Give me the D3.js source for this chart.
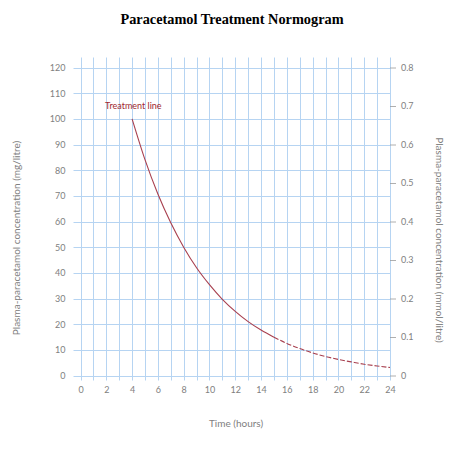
<!DOCTYPE html>
<html>
<head>
<meta charset="utf-8">
<script src="https://cdn.jsdelivr.net/npm/d3@7"></script>
<style>
  html, body { margin: 0; padding: 0; background: #fff; }
  svg { display: block; }
</style>
</head>
<body>
<svg id="chart" width="474" height="451"></svg>
<script>
// ---- data ----
const hours = [4, 5, 6, 7, 8, 9, 10, 11, 12, 13, 14, 15, 16, 17, 18, 19, 20, 21, 22, 23, 24];
const concentration = [100, 84.1, 70.7, 59.5, 50, 42, 35.4, 29.7, 25, 21, 17.7, 14.9, 12.5, 10.5, 8.8, 7.4, 6.25, 5.3, 4.4, 3.7, 3.1];
const solidUntilHour = 15;
const xTicks = [0, 2, 4, 6, 8, 10, 12, 14, 16, 18, 20, 22, 24];
const yTicksLeft = [0, 10, 20, 30, 40, 50, 60, 70, 80, 90, 100, 110, 120];
const yTicksRight = [0, 0.1, 0.2, 0.3, 0.4, 0.5, 0.6, 0.7, 0.8];
const titleText = "Paracetamol Treatment Normogram";
const xTitle = "Time (hours)";
const yTitleLeft = "Plasma-paracetamol concentration (mg/litre)";
const yTitleRight = "Plasma-paracetamol concentration (mmol/litre)";
const lineLabel = "Treatment line";

// ---- layout ----
const svg = d3.select("#chart");
const plotLeft = 80.5, plotRight = 390, plotTop = 67.5, plotBottom = 375.5;
const x = d3.scaleLinear().domain([0, 24]).range([plotLeft, plotRight]);
const y = d3.scaleLinear().domain([0, 120]).range([plotBottom, plotTop]);
const yR = d3.scaleLinear().domain([0, 0.8]).range([plotBottom, plotTop]);

const gridColor = "#b6d4f2";
const tickColor = "#808080";
const font = "Lato, 'Open Sans', sans-serif";

// title
svg.append("text")
  .attr("x", 232).attr("y", 24)
  .attr("text-anchor", "middle")
  .attr("font-family", "'Liberation Serif', 'Times New Roman', serif")
  .attr("font-weight", "bold")
  .attr("font-size", 14.3)
  .attr("fill", "#000")
  .text(titleText);

// vertical grid (every hour)
const hourGrid = d3.range(0, 25);
svg.append("g").selectAll("line").data(hourGrid).join("line")
  .attr("x1", d => Math.round(x(d)) + 0.5).attr("x2", d => Math.round(x(d)) + 0.5)
  .attr("y1", plotTop - 10).attr("y2", plotBottom + 5)
  .attr("stroke", gridColor).attr("stroke-width", 1);

// horizontal grid
svg.append("g").selectAll("line").data(yTicksLeft).join("line")
  .attr("x1", plotLeft - 7).attr("x2", plotRight)
  .attr("y1", d => Math.round(y(d)) + 0.5).attr("y2", d => Math.round(y(d)) + 0.5)
  .attr("stroke", gridColor).attr("stroke-width", 1);

// left axis labels
const yAxisL = d3.axisLeft(y).tickValues(yTicksLeft).tickSize(0).tickPadding(0);
const gL = svg.append("g").attr("transform", `translate(${plotLeft - 15},0)`).call(yAxisL);
gL.select(".domain").remove();
gL.selectAll("text").attr("fill", tickColor).attr("font-family", font).attr("font-size", 9);

// right axis
const yAxisR = d3.axisRight(yR).tickValues(yTicksRight).tickSize(6).tickPadding(5).tickFormat(d => d === 0 ? "0" : d3.format(".1f")(d));
const gR = svg.append("g").attr("transform", `translate(${plotRight},0)`).call(yAxisR);
gR.select(".domain").remove();
gR.selectAll("line").attr("stroke", "#9a9a9a").attr("stroke-width", 0.8);
gR.selectAll("text").attr("fill", tickColor).attr("font-family", font).attr("font-size", 9);

// bottom axis labels
const xAxis = d3.axisBottom(x).tickValues(xTicks).tickSize(0).tickPadding(0);
const gB = svg.append("g").attr("transform", `translate(0,${plotBottom + 11})`).call(xAxis);
gB.select(".domain").remove();
gB.selectAll("text").attr("fill", tickColor).attr("font-family", font).attr("font-size", 9);

// axis titles
svg.append("text")
  .attr("x", 236).attr("y", 427)
  .attr("text-anchor", "middle")
  .attr("font-family", font).attr("font-size", 10)
  .attr("fill", tickColor)
  .text(xTitle);

svg.append("text")
  .attr("transform", "translate(20,238) rotate(-90)")
  .attr("text-anchor", "middle")
  .attr("font-family", font).attr("font-size", 10)
  .attr("fill", tickColor)
  .text(yTitleLeft);

svg.append("text")
  .attr("transform", "translate(436,240) rotate(90)")
  .attr("text-anchor", "middle")
  .attr("font-family", font).attr("font-size", 10)
  .attr("fill", tickColor)
  .text(yTitleRight);

// treatment line
const pts = hours.map((h, i) => ({ h, c: concentration[i] }));
const line = d3.line().x(d => x(d.h)).y(d => y(d.c)).curve(d3.curveMonotoneX);
const lineColor = "#a8404f";
svg.append("path")
  .datum(pts.filter(d => d.h <= solidUntilHour))
  .attr("d", line).attr("fill", "none")
  .attr("stroke", lineColor).attr("stroke-width", 1.1);
svg.append("path")
  .datum(pts.filter(d => d.h >= solidUntilHour))
  .attr("d", line).attr("fill", "none")
  .attr("stroke", lineColor).attr("stroke-width", 1.1)
  .attr("stroke-dasharray", "5,2");

// label
svg.append("text")
  .attr("x", x(4) - 27).attr("y", y(105) + 3)
  .attr("font-family", font).attr("font-size", 9)
  .attr("fill", "#a0282e")
  .text(lineLabel);
</script>
</body>
</html>
